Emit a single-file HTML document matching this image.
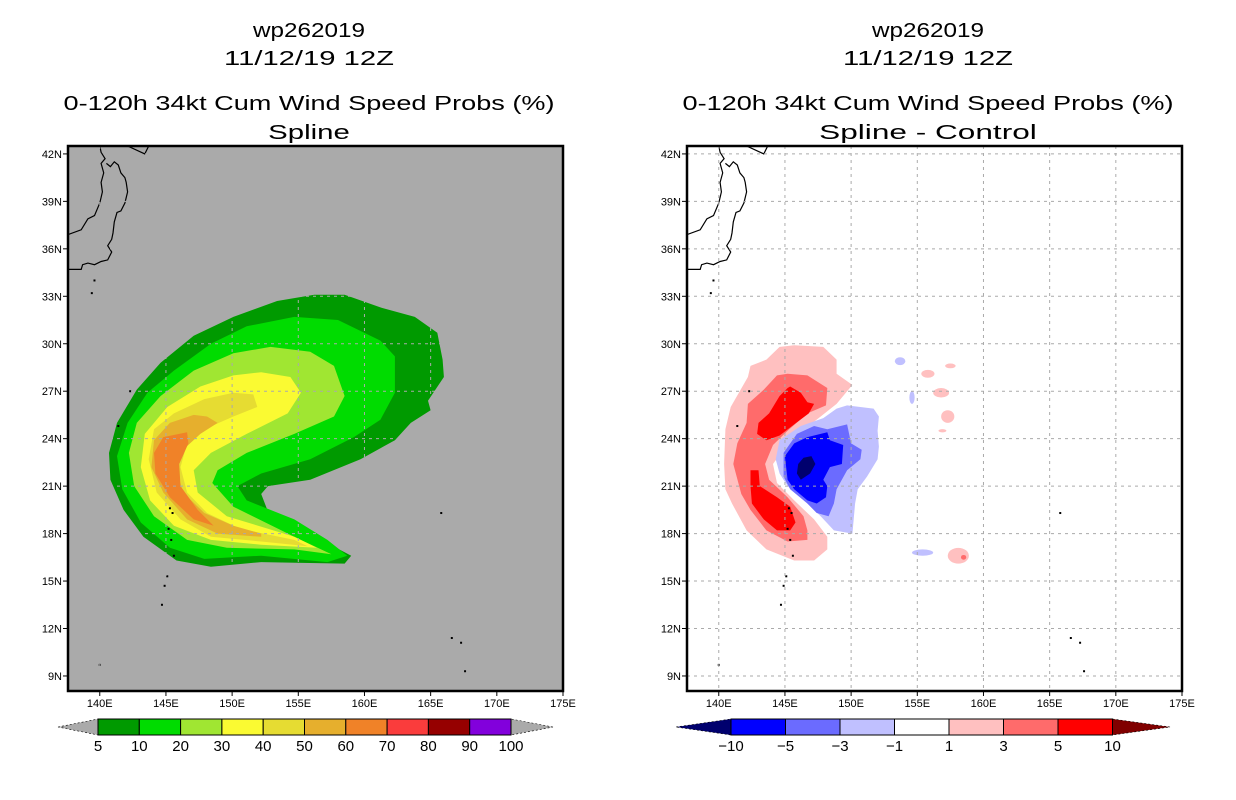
<!DOCTYPE html>
<html><head><meta charset="utf-8"><style>
html,body{margin:0;padding:0;background:#fff;}
svg{display:block;font-family:"Liberation Sans",sans-serif;}
</style></head><body>
<svg id="root" width="1236" height="800" viewBox="0 0 1236 800"></svg>
<script>
// ---------- axis data ----------
const lonTicks=[140,145,150,155,160,165,170,175];
const latTicks=[9,12,15,18,21,24,27,30,33,36,39,42];
const leftLevels=[5,10,20,30,40,50,60,70,80,90,100];
const leftColors=["#009a00","#00dc00","#a0e632","#fafa32","#e6dc32","#e6af2d","#f08228","#fa3c3c","#960000","#8200dc"];
const rightLevels=[-10,-5,-3,-1,1,3,5,10];
const rightColors=["#0000ff","#6b6bff","#c0c0ff","#ffffff","#ffc0c0","#ff6b6b","#ff0000"];
// ---------- left contour polygons (lon,lat) ----------
const p5=[[159.0,16.6],[158.5,16.1],[152.2,16.2],[148.4,15.9],[145.8,16.3],[143.3,17.8],[141.8,19.5],[140.8,21.4],[140.7,23.1],[141.3,25.0],[142.8,27.1],[144.6,28.8],[147.1,30.5],[150.1,31.7],[153.4,32.7],[156.2,33.1],[158.5,33.1],[161.2,32.3],[163.8,31.7],[165.5,30.7],[165.9,29.0],[166.0,27.9],[164.8,26.4],[165.0,25.8],[163.5,25.0],[162.3,23.9],[159.7,22.7],[155.9,21.4],[152.7,21.0],[152.2,20.5],[152.7,19.4],[154.7,18.7],[157.2,17.4]];
const p10=[[158.7,16.6],[157.2,16.2],[152.2,16.6],[147.9,16.4],[145.3,17.1],[143.1,18.7],[141.7,20.8],[141.3,22.9],[142.1,25.0],[143.6,26.9],[145.6,28.3],[148.4,30.0],[151.1,31.1],[154.7,31.7],[158.0,31.5],[161.2,30.2],[162.3,29.2],[162.3,26.9],[161.2,25.2],[159.2,24.1],[155.9,22.7],[152.2,21.8],[150.4,21.0],[151.1,20.1],[154.7,18.9],[157.2,17.6]];
const p20=[[157.5,16.7],[154.7,17.0],[149.6,17.1],[146.6,17.6],[144.1,19.1],[142.6,21.0],[142.2,23.1],[142.8,25.0],[144.6,26.7],[147.1,28.3],[150.1,29.4],[152.9,29.8],[155.9,29.5],[157.7,28.6],[158.5,26.7],[157.7,25.4],[154.7,24.3],[151.1,23.1],[148.9,22.0],[148.5,21.2],[150.1,19.7],[154.7,17.8]];
const p30=[[156.4,17.1],[152.2,17.3],[148.4,17.6],[145.6,18.5],[143.8,20.1],[143.1,22.2],[143.4,24.3],[145.1,26.0],[147.6,27.3],[150.1,28.0],[152.2,28.2],[154.4,27.9],[155.2,26.9],[154.2,25.6],[151.1,24.3],[148.4,23.1],[147.1,22.0],[147.4,20.6],[149.6,19.1],[154.7,17.8]];
const p40=[[155.7,17.2],[152.2,17.5],[148.4,17.8],[146.1,18.9],[144.3,20.6],[143.7,22.7],[144.1,24.6],[145.6,25.6],[147.9,26.5],[150.1,26.9],[151.6,26.8],[151.9,26.0],[150.1,25.4],[147.9,24.6],[146.6,23.7],[146.1,22.2],[146.6,20.6],[148.1,19.3],[150.6,18.3],[154.7,17.6]];
const p50=[[152.2,17.8],[148.9,18.0],[146.6,18.9],[144.8,20.6],[143.9,22.2],[144.1,23.9],[145.3,25.0],[147.1,25.5],[148.1,25.4],[148.9,25.0],[147.6,24.3],[146.3,23.3],[145.8,22.0],[146.3,20.6],[147.9,19.3],[150.1,18.5],[152.2,18.0]];
const p60=[[148.6,18.5],[147.1,18.9],[145.3,20.3],[144.2,21.8],[144.1,23.1],[144.8,24.1],[146.6,24.4],[146.7,23.7],[146.0,22.4],[146.1,21.0],[147.4,19.5]];
// ---------- right difference polygons ----------
const dPos1=[[145.7,29.9],[147.9,29.8],[148.9,29.0],[148.9,28.1],[150.1,27.4],[148.9,26.2],[147.7,25.4],[145.4,23.9],[144.1,22.4],[144.4,21.2],[145.7,20.1],[147.2,18.9],[148.2,17.8],[148.2,17.0],[147.2,16.3],[145.7,16.3],[143.6,17.0],[142.1,18.2],[141.0,19.9],[140.5,20.8],[140.4,22.4],[140.5,24.6],[140.9,26.0],[142.2,27.9],[142.4,28.6],[143.6,29.0],[144.6,29.8]];
const dPos3=[[145.2,28.1],[146.7,28.0],[148.2,27.2],[148.1,26.1],[146.7,25.6],[145.2,24.5],[144.1,23.6],[143.5,22.4],[143.8,21.4],[145.2,20.3],[146.4,19.1],[146.7,18.2],[146.7,17.6],[145.2,17.5],[143.6,18.2],[142.4,19.5],[141.7,20.5],[141.1,22.4],[141.4,23.7],[142.1,25.0],[142.2,26.2],[143.4,27.1],[144.4,28.0]];
const dPos5a=[[145.4,27.3],[146.2,26.9],[146.7,26.3],[147.2,26.2],[146.8,25.6],[145.7,24.9],[144.6,24.2],[143.6,23.9],[142.9,24.3],[143.0,25.0],[143.8,25.6],[144.6,26.7],[145.2,27.2]];
const dPos5b=[[142.4,22.0],[143.0,22.0],[143.1,21.0],[144.4,20.3],[145.4,19.7],[145.8,18.7],[145.4,18.2],[144.4,18.2],[143.4,18.9],[142.5,19.9],[142.4,21.0]];
const dNeg1=[[148.9,25.9],[149.7,26.1],[151.7,25.9],[152.1,25.4],[152.0,24.5],[152.1,23.5],[152.0,22.7],[151.2,21.6],[150.5,20.8],[150.3,19.9],[150.1,18.0],[148.7,18.2],[147.7,19.1],[146.7,19.9],[145.2,21.0],[144.6,21.8],[144.3,22.7],[144.6,23.9],[146.2,24.8],[147.9,25.3]];
const dNeg3=[[147.2,24.8],[148.2,24.6],[149.7,24.9],[150.0,23.7],[150.8,23.3],[150.7,22.7],[149.7,22.0],[148.9,20.8],[148.7,19.9],[148.3,19.1],[147.4,19.3],[146.7,19.9],[145.4,20.8],[144.9,21.6],[144.9,23.1],[145.9,24.3]];
const dNeg5=[[146.7,24.1],[148.2,24.4],[148.4,23.9],[149.4,23.6],[149.3,22.4],[148.4,22.2],[147.9,21.4],[148.2,21.0],[148.1,20.3],[147.4,19.9],[146.7,20.1],[145.7,20.8],[145.2,21.4],[145.0,22.9],[145.7,23.7]];
const dNeg10=[[146.4,22.8],[147.0,22.9],[147.3,22.4],[146.9,21.8],[146.2,21.4],[145.9,21.8],[146.0,22.4]];
// small blobs: lon, lat, rx(deg), ry(deg), value class
const blobLon=[155.8,157.5,156.8,157.3,153.7,155.4,158.1,158.5,156.9,154.6];
const blobLat=[28.1,28.6,26.9,25.4,28.9,16.8,16.6,16.5,24.5,26.6];
const blobRx=[0.5,0.4,0.6,0.5,0.4,0.8,0.8,0.2,0.3,0.2];
const blobRy=[0.25,0.15,0.3,0.4,0.25,0.2,0.5,0.15,0.1,0.4];
const blobCls=[5,5,5,5,3,3,5,6,5,3];
// coastlines
const coastW=[[140.0,42.5],[140.1,42.1],[140.4,41.7],[140.1,41.4],[140.3,40.8],[140.1,40.2],[140.2,39.6],[140.0,38.9],[139.6,38.1],[139.1,37.9],[138.6,37.2],[137.6,36.9]];
const coastE=[[140.5,41.4],[140.8,41.2],[141.1,41.5],[141.4,41.3],[141.6,40.8],[141.9,40.5],[142.0,40.2],[142.1,39.6],[141.9,38.9],[141.6,38.4],[141.3,38.3],[141.1,37.7],[141.0,37.0],[140.9,36.6],[140.6,36.2],[140.9,35.8],[140.6,35.3],[140.1,35.2],[139.6,35.0],[139.1,35.1],[138.7,35.0],[138.6,34.7],[137.6,34.7]];
const coastH=[[142.1,42.5],[143.4,42.0],[143.7,42.5]];
const islandLon=[142.3,141.4,145.3,145.5,145.2,145.4,145.6,145.1,144.9,144.7,140.0,165.8,166.6,167.3,167.6,139.6,139.4];
const islandLat=[27.0,24.8,19.6,19.3,18.3,17.6,16.6,15.3,14.7,13.5,9.7,19.3,11.4,11.1,9.3,34.0,33.2];

// ---------- helpers ----------
const NS="http://www.w3.org/2000/svg";
const root=document.getElementById('root');
function mk(tag,attrs,parent){const e=document.createElementNS(NS,tag);for(const k in attrs)e.setAttribute(k,attrs[k]);(parent||root).appendChild(e);return e;}
const LON0=137.6,LON1=175,LAT0=8.05,LAT1=42.5,PW=495,PH=545,TOP=146;
function panel(x0){return{x:lon=>x0+(lon-LON0)/(LON1-LON0)*PW,y:lat=>TOP+(LAT1-lat)/(LAT1-LAT0)*PH};}
function pts(P,arr){return arr.map(p=>P.x(p[0]).toFixed(1)+","+P.y(p[1]).toFixed(1)).join(" ");}

function titles(cx,lines){
  const ys=[37,65,110,139];const w=[112,170,491,lines[3].length*13.6];
  lines.forEach((t,i)=>{const e=mk('text',{x:cx,y:ys[i],'text-anchor':'middle','font-size':'20',fill:'#000',textLength:w[i],lengthAdjust:'spacingAndGlyphs'});e.textContent=t;
    
    });
}
function drawPanel(x0,bg,polys,colors,name){
  const P=panel(x0);
  const g=mk('g',{});
  
  
  const cp=mk('clipPath',{id:'clip'+x0},g);mk('rect',{x:x0,y:TOP,width:PW,height:PH},cp);
  const bgR=mk('rect',{x:x0,y:TOP,width:PW,height:PH,fill:bg},g);
  
  
  const inner=mk('g',{'clip-path':'url(#clip'+x0+')'},g);
  polys.forEach((pl,i)=>{const e=mk('polygon',{points:pts(P,pl),fill:colors[i]},inner);
    
    });
  return {P,inner,g};
}
function decorate(x0,inner,g,P){
  [coastW,coastE,coastH].forEach((c,i)=>{const e=mk('polyline',{points:pts(P,c),fill:'none',stroke:'#000','stroke-width':'1.2'},inner);
    
    });
  islandLon.forEach((lo,i)=>{const e=mk('rect',{x:P.x(lo)-1,y:P.y(islandLat[i])-1,width:2,height:2,fill:'#000'},inner);
    
    });
  lonTicks.slice(0,7).forEach(lo=>{const e=mk('line',{x1:P.x(lo),x2:P.x(lo),y1:TOP,y2:TOP+PH,stroke:'#aaa','stroke-width':'1','stroke-dasharray':'3,4'},inner);
    
    });
  latTicks.forEach(la=>{const e=mk('line',{x1:x0,x2:x0+PW,y1:P.y(la),y2:P.y(la),stroke:'#aaa','stroke-width':'1','stroke-dasharray':'3,4'},inner);
    
    });
  const fr=mk('rect',{x:x0,y:TOP,width:PW,height:PH,fill:'none',stroke:'#000','stroke-width':'2.5'},g);
  
  
  lonTicks.forEach(lo=>{const x=P.x(lo);mk('line',{x1:x,x2:x,y1:TOP+PH,y2:TOP+PH+5,stroke:'#000'},g);
    const t=mk('text',{x:x,y:TOP+PH+16,'text-anchor':'middle','font-size':'11'},g);t.textContent=lo+'E';
    
    });
  latTicks.forEach(la=>{const y=P.y(la);mk('line',{x1:x0-5,x2:x0,y1:y,y2:y,stroke:'#000'},g);
    const t=mk('text',{x:x0-6,y:y+4,'text-anchor':'end','font-size':'11'},g);t.textContent=la+'N';
    
    });
}
function colorbar(x0,bw,levels,colors,lowCol,highCol,tipL,tipR,name){
  const g=mk('g',{});
  
  
  const y0=719,y1=735,ym=727;
  const xe=x0+bw*(levels.length-1);
  mk('polygon',{points:`${tipL},${ym} ${x0},${y0} ${x0},${y1}`,fill:lowCol,stroke:'#000','stroke-width':'0.6','stroke-dasharray':'2,2'},g);
  mk('polygon',{points:`${tipR},${ym} ${xe},${y0} ${xe},${y1}`,fill:highCol,stroke:'#000','stroke-width':'0.6','stroke-dasharray':'2,2'},g);
  colors.forEach((c,i)=>{const r=mk('rect',{x:x0+bw*i,y:y0,width:bw,height:y1-y0,fill:c,stroke:'#000','stroke-width':'1'},g);
    
    });
  levels.forEach((lv,i)=>{const t=mk('text',{x:x0+bw*i,y:751,'text-anchor':'middle','font-size':'15'},g);t.textContent=(lv<0?'\u2212'+(-lv):lv);
    
    });
}

// ---------- left ----------
titles(309,["wp262019","11/12/19 12Z","0-120h 34kt Cum Wind Speed Probs (%)","Spline"]);
const L=drawPanel(68,"#aaaaaa",[p5,p10,p20,p30,p40,p50,p60],leftColors,'left-map');
decorate(68,L.inner,L.g,L.P);
colorbar(98,41.3,leftLevels,leftColors,"#aaaaaa","#aaaaaa",58,553,'left-colorbar');

// ---------- right ----------
titles(928,["wp262019","11/12/19 12Z","0-120h 34kt Cum Wind Speed Probs (%)","Spline - Control"]);
const R=drawPanel(687,"#ffffff",[dPos1,dPos3,dPos5a,dPos5b,dNeg1,dNeg3,dNeg5,dNeg10],
  ["#ffc0c0","#ff6b6b","#ff0000","#ff0000","#c0c0ff","#6b6bff","#0000ff","#00006e"],'right-map');
const clsCol={3:"#c0c0ff",5:"#ffc0c0",6:"#ff6b6b"};
blobLon.forEach((lo,i)=>{const e=mk('ellipse',{cx:R.P.x(lo),cy:R.P.y(blobLat[i]),rx:blobRx[i]*13.2,ry:blobRy[i]*15.8,fill:clsCol[blobCls[i]]},R.inner);
  
  });
decorate(687,R.inner,R.g,R.P);
colorbar(731,54.5,rightLevels,rightColors,"#00006e","#800000",676,1170,'right-colorbar');
</script>
</body></html>
